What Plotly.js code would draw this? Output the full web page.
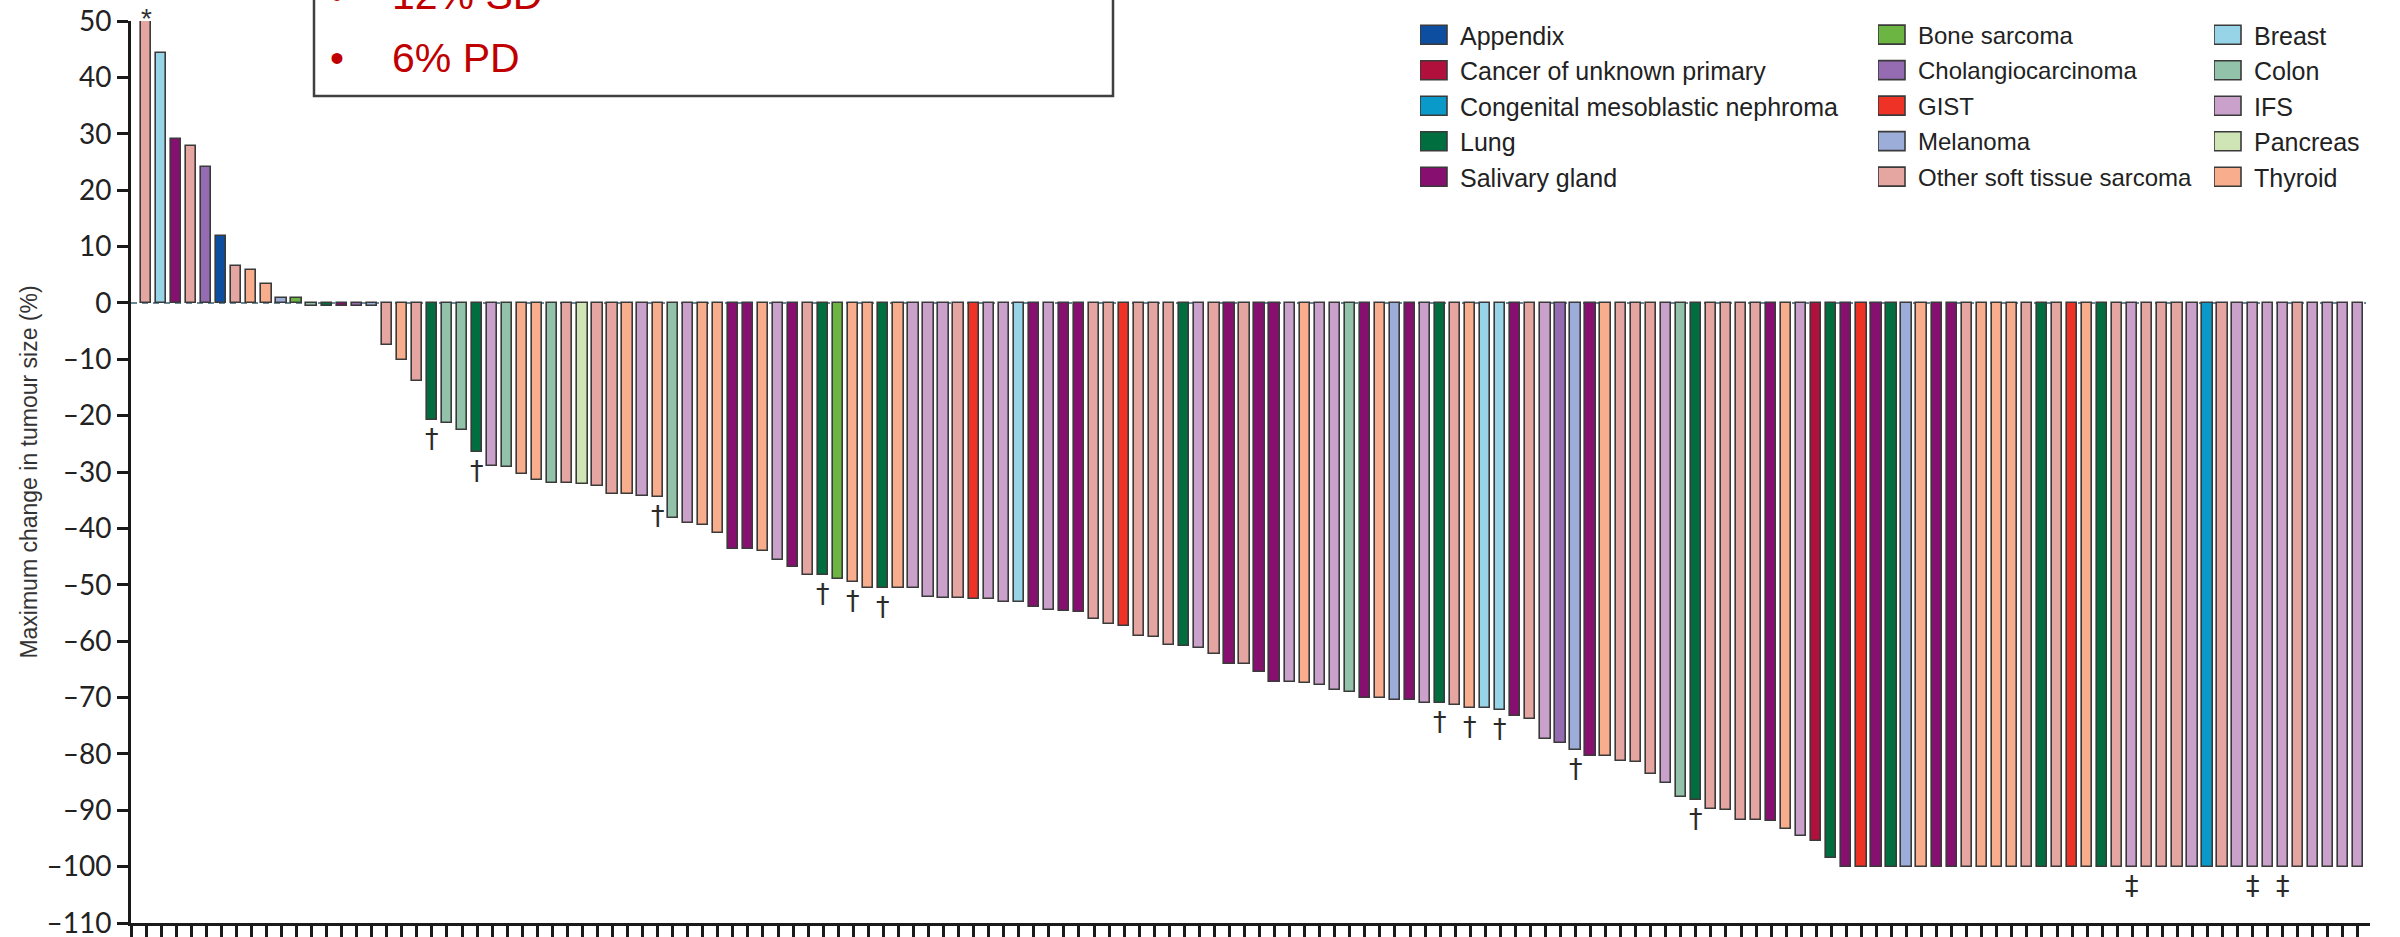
<!DOCTYPE html>
<html><head><meta charset="utf-8">
<script src="https://cdn.plot.ly/plotly-3.0.1.min.js"></script>
<style>html,body{margin:0;padding:0;background:#fff;}#chart{width:2400px;height:937px;}</style>
</head><body><div id="chart"></div>
<script>
// ---------- data ----------
const categoryCodes = ['APP','CUP','CMN','LUN','SAL','BON','CHO','GIS','MEL','STS','BRE','COL','IFS','PAN','THY'];
const categories = ['Appendix','Cancer of unknown primary','Congenital mesoblastic nephroma','Lung','Salivary gland',
  'Bone sarcoma','Cholangiocarcinoma','GIST','Melanoma','Other soft tissue sarcoma',
  'Breast','Colon','IFS','Pancreas','Thyroid'];
const categoryColors = ['#0D4EA0','#B2103C','#0A9AC9','#006E3E','#870F6F',
  '#6DB542','#956BB2','#EE3326','#9DADD9','#E5A6A1',
  '#98D4E8','#92C2AA','#C9A1CB','#D0E5B5','#F8AE8D'];
const legendColumn = ['legend','legend','legend','legend','legend',
  'legend2','legend2','legend2','legend2','legend2',
  'legend3','legend3','legend3','legend3','legend3'];

// patient order 1..148 (waterfall)
const tumourType = [
 'STS','BRE','SAL','STS','CHO','APP','STS','THY','THY','MEL',
 'BON','COL','LUN','SAL','CHO','MEL','STS','THY','STS','LUN',
 'COL','COL','LUN','IFS','COL','THY','THY','COL','STS','PAN',
 'STS','STS','THY','IFS','THY','COL','IFS','THY','THY','SAL',
 'SAL','THY','IFS','SAL','STS','LUN','BON','THY','THY','LUN',
 'THY','IFS','IFS','IFS','STS','GIS','IFS','IFS','BRE','SAL',
 'IFS','SAL','SAL','STS','STS','GIS','STS','STS','STS','LUN',
 'IFS','STS','SAL','STS','SAL','SAL','IFS','THY','IFS','IFS',
 'COL','SAL','THY','MEL','SAL','IFS','LUN','STS','THY','BRE',
 'BRE','SAL','STS','IFS','CHO','MEL','SAL','THY','STS','STS',
 'STS','IFS','COL','LUN','STS','STS','STS','STS','SAL','THY',
 'IFS','CUP','LUN','SAL','GIS','SAL','LUN','MEL','THY','SAL',
 'SAL','STS','THY','THY','THY','STS','LUN','STS','GIS','THY',
 'LUN','STS','IFS','STS','STS','STS','IFS','CMN','STS','IFS',
 'IFS','IFS','IFS','STS','IFS','IFS','IFS','IFS'];

const maxChange = [
 50, 44.4, 29, 27.9, 24.1, 11.9, 6.5, 5.8, 3.4, 0.9,
 0.9, -0.5, -0.5, -0.5, -0.5, -0.5, -7.5, -10.1, -13.9, -20.7,
 -21.3, -22.6, -26.4, -29.0, -29.1, -30.4, -31.4, -31.9, -31.9, -32.2,
 -32.5, -33.9, -33.9, -34.2, -34.5, -38.1, -39.1, -39.4, -40.9, -43.7,
 -43.7, -44.1, -45.6, -46.9, -48.2, -48.3, -49.0, -49.5, -50.5, -50.5,
 -50.5, -50.5, -52.1, -52.3, -52.3, -52.5, -52.5, -53.0, -53.0, -54.0,
 -54.4, -54.7, -54.9, -56.1, -57.0, -57.4, -59.1, -59.3, -60.6, -60.9,
 -61.2, -62.3, -64.0, -64.0, -65.4, -67.2, -67.2, -67.4, -67.7, -68.7,
 -69.0, -70.0, -70.0, -70.5, -70.5, -71.0, -71.0, -71.3, -71.8, -71.8,
 -72.3, -73.3, -73.8, -77.4, -78.1, -79.4, -80.3, -80.3, -81.2, -81.5,
 -83.6, -85.2, -87.7, -88.2, -89.7, -90.0, -91.7, -91.7, -91.9, -93.4,
 -94.5, -95.5, -98.5, -100, -100, -100, -100, -100, -100, -100,
 -100, -100, -100, -100, -100, -100, -100, -100, -100, -100,
 -100, -100, -100, -100, -100, -100, -100, -100, -100, -100,
 -100, -100, -100, -100, -100, -100, -100, -100];

const asteriskPatients = [1];
const daggerPatients = [20, 23, 35, 46, 48, 50, 87, 89, 91, 96, 104];
const doubleDaggerPatients = [133, 141, 143];

const boxLines = ['12% SD', '6% PD'];
const yTickValues = [50,40,30,20,10,0,-10,-20,-30,-40,-50,-60,-70,-80,-90,-100,-110];
const yTickText = ['50','40','30','20','10','0','–10','–20','–30','–40','–50','–60','–70','–80','–90','–100','–110'];

// ---------- geometry helpers (pixels -> paper) ----------
const W = 2400, H = 937, ML = 131, MR = 30, MT = 21, MB = 13.6;
const plotW = W - ML - MR, plotH = H - MT - MB;
const xp = px => (px - ML) / plotW;
const yp = py => (H - MB - py) / plotH;

const FONT = 'Liberation Sans, Arial, sans-serif';

// ---------- traces ----------
const patientIds = tumourType.map((_, i) => i + 1);
const traces = categoryCodes.map((code, k) => {
  const xs = [], ys = [];
  patientIds.forEach((id, i) => { if (tumourType[i] === code) { xs.push(id); ys.push(maxChange[i]); } });
  return {
    type: 'bar', name: categories[k], x: xs, y: ys, width: 0.68,
    marker: { color: categoryColors[k], line: { color: '#3a3a3a', width: 1.6 } },
    legend: legendColumn[k], legendgroup: code, showlegend: true, cliponaxis: false,
    hovertemplate: categories[k] + '<br>Patient %{x}: %{y}%<extra></extra>'
  };
});

// ---------- annotations ----------
const annotations = [];
asteriskPatients.forEach(id => annotations.push({
  x: id, y: maxChange[id - 1], xref: 'x', yref: 'y', text: '*', showarrow: false,
  yanchor: 'bottom', yshift: -15, font: { family: FONT, size: 28, color: '#333' }
}));
daggerPatients.forEach(id => annotations.push({
  x: id, y: maxChange[id - 1], xref: 'x', yref: 'y', text: '†', showarrow: false,
  yanchor: 'top', yshift: -1, font: { family: 'DejaVu Sans, sans-serif', size: 27, color: '#2a2a2a' }
}));
doubleDaggerPatients.forEach(id => annotations.push({
  x: id, y: maxChange[id - 1], xref: 'x', yref: 'y', text: '‡', showarrow: false,
  yanchor: 'top', yshift: -1, font: { family: 'DejaVu Sans, sans-serif', size: 27, color: '#2a2a2a' }
}));
const boxLineY = [-5, 58];
boxLines.forEach((t, i) => {
  annotations.push({ x: xp(337), y: yp(boxLineY[i]), xref: 'paper', yref: 'paper', text: '•', showarrow: false,
    xanchor: 'center', yanchor: 'middle', font: { family: FONT, size: 40, color: '#C00000' } });
  annotations.push({ x: xp(390), y: yp(boxLineY[i]), xref: 'paper', yref: 'paper', text: t, showarrow: false,
    xanchor: 'left', yanchor: 'middle', font: { family: FONT, size: 41, color: '#C00000' } });
});

// ---------- shapes ----------
const shapes = [
  { type: 'line', xref: 'paper', yref: 'y', x0: 0, x1: xp(2366), y0: 0, y1: 0, layer: 'below',
    line: { color: '#6a8796', width: 2, dash: '6px,5px' } },
  { type: 'rect', xref: 'paper', yref: 'paper', x0: xp(314), x1: xp(1113), y0: yp(96), y1: yp(-20),
    line: { color: '#404040', width: 2.5 }, fillcolor: 'rgba(0,0,0,0)' }
];

const legendBase = { yanchor: 'top', xanchor: 'left', bgcolor: 'rgba(0,0,0,0)', borderwidth: 0,
  font: { family: FONT, size: 25, color: '#222' }, itemwidth: 30, tracegroupgap: 0, orientation: 'v' };

const layout = {
  width: W, height: H, paper_bgcolor: '#fff', plot_bgcolor: '#fff',
  margin: { l: ML, r: MR, t: MT, b: MB, pad: 0, autoexpand: false },
  barmode: 'overlay', bargap: 0,
  font: { family: FONT, color: '#222' },
  xaxis: { range: [0, 148.8], showgrid: false, zeroline: false, showline: true, linecolor: '#1a1a1a', linewidth: 3,
    ticks: 'outside', ticklen: 20, tickwidth: 2.6, tickcolor: '#1a1a1a', tickmode: 'linear', tick0: 0, dtick: 1,
    showticklabels: false, fixedrange: true },
  yaxis: { range: [-110, 50], showgrid: false, zeroline: false, showline: true, linecolor: '#1a1a1a', linewidth: 3,
    ticks: 'outside', ticklen: 11, tickwidth: 3, tickcolor: '#1a1a1a', tickmode: 'array',
    tickvals: yTickValues, ticktext: yTickText, ticklabeloverflow: 'allow',
    tickfont: { family: 'Lato, sans-serif', size: 28, color: '#222' },
    title: { text: 'Maximum change in tumour size (%)', font: { family: FONT, size: 23, color: '#333' }, standoff: 3 },
    automargin: false, fixedrange: true },
  legend: Object.assign({}, legendBase, { x: xp(1420), y: yp(12) }),
  legend2: Object.assign({}, legendBase, { x: xp(1878), y: yp(12.5),
    font: { family: FONT, size: 24, color: '#222' }, tracegroupgap: 1.3 }),
  legend3: Object.assign({}, legendBase, { x: xp(2214), y: yp(12) }),
  annotations: annotations,
  shapes: shapes
};

function enlargeSwatches() {
  document.querySelectorAll('#chart g.legendpoints path').forEach(p => p.setAttribute('d', 'M7,9.5H-20V-9.5H7Z'));
}
Plotly.newPlot('chart', traces, layout, { displayModeBar: false }).then(gd => {
  enlargeSwatches();
  gd.on('plotly_afterplot', enlargeSwatches);
  setTimeout(enlargeSwatches, 50);
  setTimeout(enlargeSwatches, 300);
  setTimeout(enlargeSwatches, 1000);
});
</script>
</body></html>
